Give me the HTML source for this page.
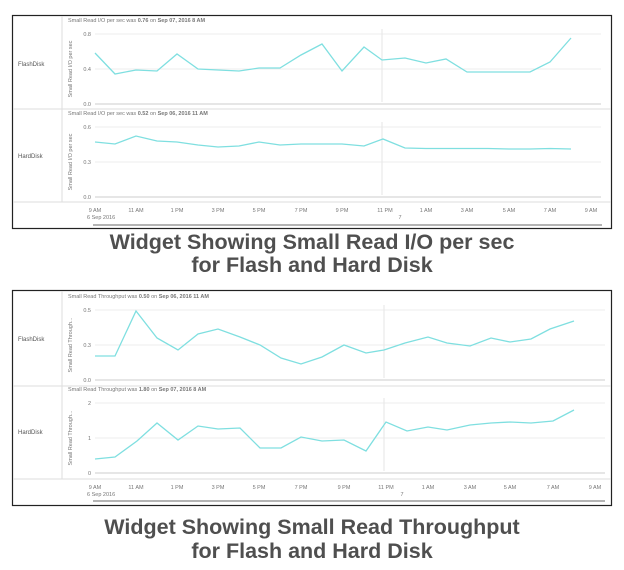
<!DOCTYPE html>
<html><head><meta charset="utf-8"><style>
html,body{margin:0;padding:0;background:#fff;}
svg{display:block;font-family:"Liberation Sans",sans-serif;}
.s{font-size:5.5px;fill:#777;}
.t{font-size:6px;fill:#555;}
.c{font-size:21.5px;font-weight:bold;fill:#4f4f4f;text-anchor:middle;}
.ln{fill:none;stroke:#7fdfe0;stroke-width:1.3;}
.g{stroke:#eee;stroke-width:1;}
</style></head><body>
<svg width="624" height="570" viewBox="0 0 624 570">
<!-- Widget 1 -->
<rect x="12.5" y="15.5" width="599" height="213" fill="#fff" stroke="#222" stroke-width="1.2"/>
<line x1="62" y1="16" x2="62" y2="202" stroke="#ddd"/>
<line x1="13" y1="109" x2="611" y2="109" stroke="#ddd"/>
<line x1="13" y1="202" x2="611" y2="202" stroke="#ddd"/>
<text x="18" y="66" class="t">FlashDisk</text>
<text x="18" y="158" class="t">HardDisk</text>
<text x="68" y="22" class="s">Small Read I/O per sec was <tspan font-weight="bold">0.76</tspan> on <tspan font-weight="bold">Sep 07, 2016 8 AM</tspan></text>
<text x="68" y="115" class="s">Small Read I/O per sec was <tspan font-weight="bold">0.52</tspan> on <tspan font-weight="bold">Sep 06, 2016 11 AM</tspan></text>
<g class="g"><line x1="95" y1="34" x2="601" y2="34"/><line x1="95" y1="69" x2="601" y2="69"/><line x1="95" y1="127" x2="601" y2="127"/><line x1="95" y1="162" x2="601" y2="162"/></g>
<line x1="95" y1="104" x2="601" y2="104" stroke="#ddd" stroke-width="1.5"/>
<line x1="95" y1="197" x2="601" y2="197" stroke="#ddd" stroke-width="1.5"/>
<line x1="382" y1="29" x2="382" y2="102" stroke="#e6e6e6"/>
<line x1="382" y1="122" x2="382" y2="195" stroke="#e6e6e6"/>
<g class="s" text-anchor="end"><text x="91" y="36">0.8</text><text x="91" y="71">0.4</text><text x="91" y="106">0.0</text><text x="91" y="129">0.6</text><text x="91" y="164">0.3</text><text x="91" y="199">0.0</text></g>
<text transform="translate(72,69) rotate(-90)" class="s" text-anchor="middle">Small Read I/O per sec</text>
<text transform="translate(72,162) rotate(-90)" class="s" text-anchor="middle">Small Read I/O per sec</text>
<polyline class="ln" points="95,53 115,74 136,70 157,71 177,54 198,69 218,70 239,71 259,68 280,68 301,55 322,44 342,71 364,47 382,60 405,58 426,63 446,59 467,72 488,72 509,72 530,72 550,62 571,38"/>
<polyline class="ln" points="95,142 115,144 136,136 157,141 177,142 198,145 218,147 239,146 259,142 280,145 301,144 322,144 342,144 364,146 383,139 405,148 426,148.5 446,148.5 467,148.5 488,148.5 509,149 530,149 550,148.5 571,149"/>
<g class="s" text-anchor="middle"><text x="95" y="212">9 AM</text><text x="136" y="212">11 AM</text><text x="177" y="212">1 PM</text><text x="218" y="212">3 PM</text><text x="259" y="212">5 PM</text><text x="301" y="212">7 PM</text><text x="342" y="212">9 PM</text><text x="385" y="212">11 PM</text><text x="426" y="212">1 AM</text><text x="467" y="212">3 AM</text><text x="509" y="212">5 AM</text><text x="550" y="212">7 AM</text><text x="591" y="212">9 AM</text><text x="400" y="219">7</text></g>
<text x="87" y="219" class="s">6 Sep 2016</text>
<line x1="93" y1="225" x2="602" y2="225" stroke="#888" stroke-width="1.2"/>
<text x="312" y="249" class="c">Widget Showing Small Read I/O per sec</text>
<text x="312" y="272" class="c">for Flash and Hard Disk</text>
<!-- Widget 2 -->
<rect x="12.5" y="290.5" width="599" height="215" fill="#fff" stroke="#222" stroke-width="1.2"/>
<line x1="62" y1="291" x2="62" y2="479" stroke="#ddd"/>
<line x1="13" y1="386" x2="611" y2="386" stroke="#ddd"/>
<line x1="13" y1="479" x2="611" y2="479" stroke="#ddd"/>
<text x="18" y="341" class="t">FlashDisk</text>
<text x="18" y="434" class="t">HardDisk</text>
<text x="68" y="298" class="s">Small Read Throughput was <tspan font-weight="bold">0.50</tspan> on <tspan font-weight="bold">Sep 06, 2016 11 AM</tspan></text>
<text x="68" y="391" class="s">Small Read Throughput was <tspan font-weight="bold">1.80</tspan> on <tspan font-weight="bold">Sep 07, 2016 8 AM</tspan></text>
<g class="g"><line x1="95" y1="310" x2="605" y2="310"/><line x1="95" y1="345" x2="605" y2="345"/><line x1="95" y1="403" x2="605" y2="403"/><line x1="95" y1="438" x2="605" y2="438"/></g>
<line x1="95" y1="380" x2="605" y2="380" stroke="#ddd" stroke-width="1.5"/>
<line x1="95" y1="473" x2="605" y2="473" stroke="#ddd" stroke-width="1.5"/>
<line x1="384" y1="305" x2="384" y2="378" stroke="#e6e6e6"/>
<line x1="384" y1="398" x2="384" y2="471" stroke="#e6e6e6"/>
<g class="s" text-anchor="end"><text x="91" y="312">0.5</text><text x="91" y="347">0.3</text><text x="91" y="382">0.0</text><text x="91" y="405">2</text><text x="91" y="440">1</text><text x="91" y="475">0</text></g>
<text transform="translate(72,345) rotate(-90)" class="s" text-anchor="middle">Small Read Through...</text>
<text transform="translate(72,438) rotate(-90)" class="s" text-anchor="middle">Small Read Through...</text>
<polyline class="ln" points="95,356 115,356 136,311 157,338 178,350 198,334 218,329 240,337 260,345 281,358 301,364 322,357 344,345 366,353 384,350 405,343 428,337 447,343 470,346 491,338 510,342 531,339 550,329 574,321"/>
<polyline class="ln" points="95,459 115,457 137,441 157,423 178,440 198,426 218,429 240,428 260,448 281,448 301,437 322,441 344,440 366,451 386,422 407,431 428,427 447,430 470,425 491,423 510,422 531,423 553,421 574,410"/>
<g class="s" text-anchor="middle"><text x="95" y="489">9 AM</text><text x="136" y="489">11 AM</text><text x="177" y="489">1 PM</text><text x="218" y="489">3 PM</text><text x="259" y="489">5 PM</text><text x="301" y="489">7 PM</text><text x="344" y="489">9 PM</text><text x="386" y="489">11 PM</text><text x="428" y="489">1 AM</text><text x="470" y="489">3 AM</text><text x="510" y="489">5 AM</text><text x="553" y="489">7 AM</text><text x="595" y="489">9 AM</text><text x="402" y="496">7</text></g>
<text x="87" y="496" class="s">6 Sep 2016</text>
<line x1="93" y1="501" x2="605" y2="501" stroke="#888" stroke-width="1.2"/>
<text x="312" y="534" class="c">Widget Showing Small Read Throughput</text>
<text x="312" y="558" class="c">for Flash and Hard Disk</text>
</svg>
</body></html>
